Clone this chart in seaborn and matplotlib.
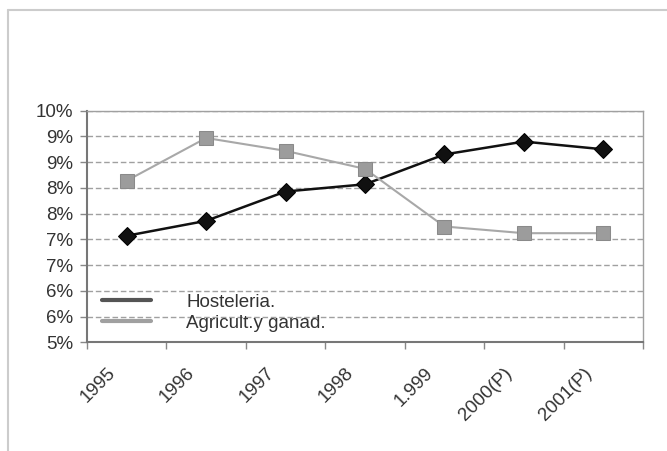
import matplotlib
matplotlib.use("Agg")
import matplotlib.pyplot as plt
import matplotlib.transforms as mtransforms
from matplotlib.lines import Line2D
import numpy as np
import pandas as pd
import seaborn as sns

# datos (porcentaje)
anios = ["1995", "1996", "1997", "1998", "1.999", "2000(P)", "2001(P)"]
hosteleria = [7.07, 7.36, 7.93, 8.07, 8.65, 8.90, 8.75]
agricultura = [8.14, 8.97, 8.72, 8.37, 7.25, 7.12, 7.12]
series = ["Hosteleria.", "Agricult.y ganad."]
y_ticks = [5.0, 5.5, 6.0, 6.5, 7.0, 7.5, 8.0, 8.5, 9.0, 9.5]
y_labels = ["5%", "6%", "6%", "7%", "7%", "8%", "8%", "9%", "9%", "10%"]

df = pd.DataFrame({
    "anio": anios * 2,
    "serie": [series[0]] * len(anios) + [series[1]] * len(anios),
    "valor": hosteleria + agricultura,
})

sns.set_theme(style="white")
plt.rcParams["font.family"] = ["Liberation Sans", "DejaVu Sans"]
FS = 13.5
TXT = "#333333"

fig = plt.figure(figsize=(6.67, 4.51), dpi=100)
ax = fig.add_axes([87 / 667, 1 - 342.3 / 451, 556 / 667, 231.6 / 451])

sns.lineplot(
    data=df, x="anio", y="valor", hue="serie", style="serie",
    palette={series[0]: "#111111", series[1]: "#a8a8a8"},
    markers={series[0]: "D", series[1]: "s"}, dashes=False,
    sort=False, legend=False, linewidth=1.8, ax=ax,
)
# colores de marcadores
for line, face, edge, ms, lw in zip(ax.lines[:2], ["#111111", "#9c9c9c"], ["#000000", "#8a8a8a"],
                                    [9, 10.5], [1.8, 1.5]):
    line.set_markerfacecolor(face)
    line.set_markeredgecolor(edge)
    line.set_markersize(ms)
    line.set_linewidth(lw)
    line.set_zorder(3)

ax.set_xlim(-0.5, len(anios) - 0.5)
ax.set_ylim(y_ticks[0], y_ticks[-1])
ax.set_yticks(y_ticks, labels=y_labels)
ax.set_xticks(np.arange(len(anios) + 1) - 0.5, labels=[""] * (len(anios) + 1))
ax.set_xticks(np.arange(len(anios)), labels=anios, minor=True)
ax.tick_params(axis="x", which="major", direction="out", length=5, width=1, color="#888888", bottom=True)
ax.tick_params(axis="x", which="minor", length=0, pad=16, labelsize=FS, labelcolor=TXT)
ax.tick_params(axis="y", direction="out", length=5, width=1, color="#888888", left=True,
               pad=5, labelsize=FS, labelcolor=TXT)
shift = mtransforms.ScaledTranslation(-0.08, 0, fig.dpi_scale_trans)
for lab in ax.get_xticklabels(minor=True):
    lab.set_rotation(45)
    lab.set_ha("right")
    lab.set_va("top")
    lab.set_transform(lab.get_transform() + shift)
ax.set_xlabel("")
ax.set_ylabel("")

ax.yaxis.grid(True, color="#a0a0a0", linestyle=(0, (4, 2)), linewidth=1)
ax.set_axisbelow(True)
for side in ["left", "bottom"]:
    ax.spines[side].set_color("#777777")
    ax.spines[side].set_linewidth(1.5)
for side in ["top", "right"]:
    ax.spines[side].set_color("#a0a0a0")
    ax.spines[side].set_linewidth(1)

handles = [Line2D([], [], color="#555555", lw=3), Line2D([], [], color="#a0a0a0", lw=3)]
ax.legend(handles, series, loc="lower left", bbox_to_anchor=(0.027, 0.045),
          frameon=False, fontsize=FS, handlelength=2.6, handletextpad=1.9,
          labelspacing=0.2, borderpad=0, borderaxespad=0, labelcolor=TXT)

# marco exterior del gráfico
fig.add_artist(Line2D([8 / 667, 1], [1 - 10 / 451, 1 - 10 / 451], transform=fig.transFigure,
                      color="#cccccc", lw=1.5))
fig.add_artist(Line2D([8 / 667, 8 / 667], [0, 1 - 10 / 451], transform=fig.transFigure,
                      color="#cccccc", lw=1.5))

fig.savefig("out.png", dpi=100)
